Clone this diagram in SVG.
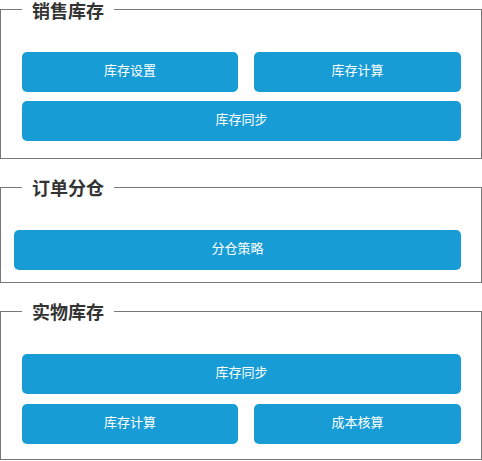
<svg xmlns="http://www.w3.org/2000/svg" width="482" height="461" viewBox="0 0 482 461">
<style>
.frame{fill:none;stroke:#777;stroke-width:1}
.gap{fill:#fff}
.title{font-family:"Noto Sans CJK SC","Microsoft YaHei",sans-serif;font-size:18px;font-weight:bold;fill:#333}
.btn{fill:#189cd6}
.lbl{font-family:"Noto Sans CJK SC","Microsoft YaHei",sans-serif;font-size:13px;fill:#fff;text-anchor:middle}
</style>
<rect width="482" height="461" fill="#fff"/>
<g id="sec-sales">
<rect class="frame" x="0.5" y="9.5" width="481" height="149"/>
<rect class="gap" x="22" y="0" width="92" height="18"/>
<text class="title" x="32" y="17.5">销售库存</text>
</g>
<g id="node-kcsz"><rect class="btn" x="22" y="52" width="216" height="40" rx="5"/><text class="lbl" x="130" y="75">库存设置</text></g>
<g id="node-kcjs1"><rect class="btn" x="254" y="52" width="207" height="40" rx="5"/><text class="lbl" x="357.5" y="75">库存计算</text></g>
<g id="node-kctb1"><rect class="btn" x="22" y="101" width="439" height="40" rx="5"/><text class="lbl" x="241.5" y="124">库存同步</text></g>
<g id="sec-order">
<rect class="frame" x="0.5" y="187.5" width="481" height="95"/>
<rect class="gap" x="22" y="178" width="92" height="18"/>
<text class="title" x="32" y="195">订单分仓</text>
</g>
<g id="node-fccl"><rect class="btn" x="14" y="230" width="447" height="40" rx="5"/><text class="lbl" x="237.5" y="253">分仓策略</text></g>
<g id="sec-physical">
<rect class="frame" x="0.5" y="311.5" width="481" height="148"/>
<rect class="gap" x="22" y="302" width="92" height="18"/>
<text class="title" x="32" y="319">实物库存</text>
</g>
<g id="node-kctb2"><rect class="btn" x="22" y="354" width="439" height="40" rx="5"/><text class="lbl" x="241.5" y="377">库存同步</text></g>
<g id="node-kcjs2"><rect class="btn" x="22" y="404" width="216" height="40" rx="5"/><text class="lbl" x="130" y="427">库存计算</text></g>
<g id="node-cbhs"><rect class="btn" x="254" y="404" width="207" height="40" rx="5"/><text class="lbl" x="357.5" y="427">成本核算</text></g>
<g id="connectors"></g>
</svg>
